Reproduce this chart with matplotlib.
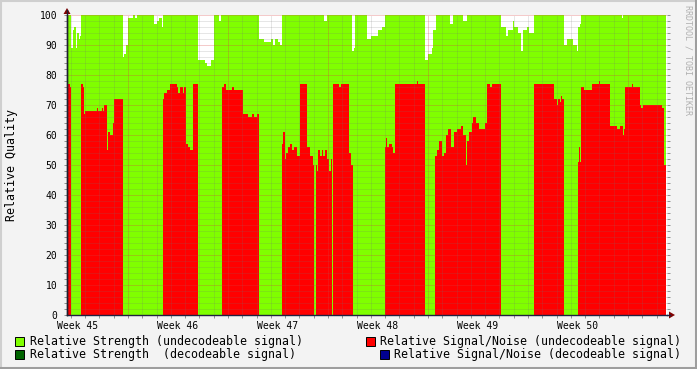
import matplotlib
matplotlib.use("Agg")
import matplotlib.pyplot as plt
from matplotlib.patches import Rectangle, Polygon
from matplotlib.lines import Line2D

# ---- data (x in days from left edge of graph, 42 days = 6 weeks) ----
strength_days = [0.00, 0.28, 0.40, 0.49, 0.63, 0.72, 0.84, 0.91, 0.98,
                 3.94, 3.99, 4.13, 4.25, 4.62, 4.76, 4.90,
                 6.09, 6.28, 6.46, 6.63, 6.74,
                 9.19, 9.66, 9.78, 10.06, 10.29, 10.66, 10.76,
                 13.46, 13.79, 14.26, 14.44, 14.56, 14.79, 14.91, 15.03,
                 17.99, 18.22, 19.97, 20.09, 20.16,
                 20.98, 21.28, 21.79, 22.03, 22.26,
                 25.06, 25.29, 25.53, 25.64, 25.83,
                 26.81, 27.04, 27.74, 27.98,
                 30.38, 30.73, 30.89, 31.20, 31.29, 31.59, 31.76, 31.90, 32.18, 32.34, 32.69,
                 34.79, 35.02, 35.44, 35.68, 35.79, 35.91, 35.98,
                 38.85, 38.94, 41.93]
strength_vals = [100, 89, 95, 96, 89, 94, 92, 93, 100,
                 86, 87, 90, 99, 100, 99, 100,
                 97, 98, 99, 96, 100,
                 85, 84, 83, 85, 100, 98, 100,
                 92, 91, 92, 90, 92, 91, 90, 100,
                 98, 100, 88, 89, 100,
                 92, 93, 95, 96, 100,
                 85, 87, 89, 95, 100,
                 97, 100, 98, 100,
                 96, 93, 95, 98, 96, 94, 88, 95, 96, 94, 100,
                 90, 92, 90, 88, 96, 97, 100,
                 99, 100, 100]

snr_days = [0.00, 0.10, 0.18, 0.28, 0.98, 1.10, 1.19, 1.26, 2.08, 2.15, 2.43, 2.52, 2.59,
            2.78, 2.89, 3.01, 3.19, 3.26, 3.29, 3.94,
            6.74, 6.81, 6.98, 7.21, 7.68, 7.77, 7.88, 8.09, 8.19, 8.33, 8.47, 8.61, 8.80, 9.17,
            10.85, 10.99, 11.13, 11.55, 11.69, 12.32, 12.67, 12.95, 13.09, 13.27, 13.44,
            15.05, 15.12, 15.23, 15.33, 15.47, 15.61, 15.75, 15.89, 16.07, 16.28,
            16.82, 17.01, 17.20, 17.27, 17.41, 17.48, 17.59, 17.71, 17.83, 17.94,
            18.08, 18.22, 18.36, 18.46, 18.55, 18.62, 19.04, 19.16, 19.74, 19.86, 20.00,
            22.26, 22.33, 22.42, 22.56, 22.73, 22.84, 22.96, 24.48, 24.55, 25.06,
            25.76, 25.88, 26.06, 26.23, 26.39, 26.53, 26.69, 26.86, 27.09, 27.28,
            27.58, 27.70, 27.74, 27.91, 27.98, 28.16, 28.33, 28.44, 28.63, 28.86,
            29.26, 29.38, 29.61, 29.73, 30.36,
            32.69, 34.09, 34.30, 34.39, 34.51, 34.58, 34.65, 34.79,
            35.77, 35.84, 35.91, 35.98, 36.21, 36.75, 37.24, 37.31,
            38.01, 38.50, 38.71, 38.90, 38.99, 39.06, 39.55, 39.64,
            40.11, 40.18, 40.32, 41.63, 41.79, 41.93]
snr_vals = [76, 77, 76, 0, 77, 76, 67, 68, 69, 68, 69, 68, 70,
            55, 61, 60, 64, 60, 72, 0,
            72, 74, 75, 77, 76, 74, 76, 74, 76, 57, 56, 55, 77, 0,
            76, 77, 75, 76, 75, 67, 66, 67, 66, 67, 0,
            57, 61, 52, 54, 56, 57, 55, 56, 53, 77,
            56, 53, 50, 0, 50, 48, 55, 53, 55, 53,
            55, 52, 48, 52, 0, 77, 76, 77, 54, 50, 0,
            56, 59, 56, 57, 56, 54, 77, 78, 77, 0,
            53, 55, 58, 53, 54, 60, 62, 56, 61, 62,
            63, 62, 60, 50, 58, 61, 64, 66, 64, 62,
            64, 77, 76, 77, 0,
            77, 72, 70, 72, 71, 73, 72, 0,
            51, 56, 51, 76, 75, 77, 78, 77,
            63, 62, 63, 60, 62, 76, 77, 76,
            70, 69, 70, 69, 50, 50]

week_labels = ["Week 45", "Week 46", "Week 47", "Week 48", "Week 49", "Week 50"]
week_grid0 = 4.27          # first week boundary (red grid line)

GREEN = "#80FF00"
RED = "#FF0000"
DKGREEN = "#006400"
BLUE = "#000090"

W, H = 697, 369
fx = lambda px: px / W
fy = lambda py: 1 - py / H

fig = plt.figure(figsize=(W / 100, H / 100), dpi=100, facecolor="#F3F3F3")
ax = fig.add_axes([fx(67), fy(315), 600 / W, 300 / H])
ax.set_facecolor("white")

ax.fill_between(strength_days, strength_vals, step="post", color=GREEN, lw=0, zorder=1)
ax.fill_between(snr_days, snr_vals, step="post", color=RED, lw=0, zorder=2)

ax.set_xlim(0, 42)
ax.set_ylim(0, 100)

# grid, rrdtool style (drawn over the areas)
dots = (0, (1, 1))
minor_c = (0.45, 0.45, 0.45, 0.35)
major_c = (0.85, 0.25, 0.25, 0.55)
for v in range(2, 101, 2):
    ax.axhline(v, color=major_c if v % 10 == 0 else minor_c, lw=0.72, ls=dots, zorder=3)
day_lines = [week_grid0 - 4 + k for k in range(42)]
for d in day_lines:
    if 0 < d < 42:
        is_week = abs((d - week_grid0) % 7) < 1e-6
        ax.axvline(d, color=major_c if is_week else minor_c, lw=0.72, ls=dots, zorder=3)

# ticks and labels
mono = "DejaVu Sans Mono"
ax.set_yticks(range(0, 101, 10))
ax.set_yticks(range(0, 101, 2), minor=True)
ax.set_yticklabels([str(v) for v in range(0, 101, 10)], family=mono, fontsize=7)
label_pos = [week_grid0 - 3.5 + 7 * k for k in range(len(week_labels))]
ax.set_xticks(label_pos)
ax.set_xticklabels(week_labels, family=mono, fontsize=7)
ax.set_xticks([d for d in day_lines if 0 < d < 42], minor=True)
ax.tick_params(axis="x", which="major", length=0, pad=4)
ax.tick_params(axis="x", which="minor", length=2, width=0.7, color="#909090", direction="out")
ax.tick_params(axis="y", which="both", left=True, right=True, length=2, width=0.7,
               color="#909090", direction="out", pad=5)

for s in ["top", "right"]:
    ax.spines[s].set_visible(False)
ax.spines["left"].set_color("#202030")
ax.spines["bottom"].set_color("#202040")
ax.spines["left"].set_linewidth(1)
ax.spines["bottom"].set_linewidth(1)

fig.text(fx(12), fy(165), "Relative Quality", rotation=90, ha="center", va="center",
         family=mono, fontsize=8.4)

# axis arrows
arrow_c = "#800000"
fig.add_artist(Line2D([fx(67), fx(67)], [fy(315), fy(10)], color="#202030", lw=1))
fig.add_artist(Line2D([fx(667), fx(670)], [fy(315), fy(315)], color="#202040", lw=1))
fig.add_artist(Polygon([[fx(67), fy(8)], [fx(63.5), fy(14)], [fx(70.5), fy(14)]], closed=True,
                       color=arrow_c, lw=0))
fig.add_artist(Polygon([[fx(675), fy(315)], [fx(669), fy(311.5)], [fx(669), fy(318.5)]], closed=True,
                       color=arrow_c, lw=0))

# watermark
fig.text(fx(688), fy(5), "RRDTOOL / TOBI OETIKER", rotation=270, ha="center", va="top",
         family=mono, fontsize=6, color="#B0B0B0")

# legend
legend_rows = [
    (15, 341, GREEN, 30, "Relative Strength (undecodeable signal)"),
    (15, 354.5, DKGREEN, 30, "Relative Strength  (decodeable signal)"),
    (366, 341, RED, 380, "Relative Signal/Noise (undecodeable signal)"),
    (380, 354.5, BLUE, 394, "Relative Signal/Noise (decodeable signal)"),
]
for sx, sy, col, tx, txt in legend_rows:
    fig.add_artist(Rectangle((fx(sx), fy(sy + 4.5)), 9 / W, 9 / H, facecolor=col,
                             edgecolor="black", lw=0.7))
    fig.text(fx(tx), fy(sy), txt, ha="left", va="center", family=mono, fontsize=8.4)

# 3d border
fig.add_artist(Line2D([0, 1], [fy(1), fy(1)], color="#CFCFCF", lw=1.5))
fig.add_artist(Line2D([fx(1), fx(1)], [0, 1], color="#CFCFCF", lw=1.5))
fig.add_artist(Line2D([0, 1], [fy(367.5), fy(367.5)], color="#9E9E9E", lw=2.2))
fig.add_artist(Line2D([fx(695.5), fx(695.5)], [0, 1], color="#9E9E9E", lw=2.2))

fig.savefig("out.png", dpi=100, facecolor=fig.get_facecolor())
